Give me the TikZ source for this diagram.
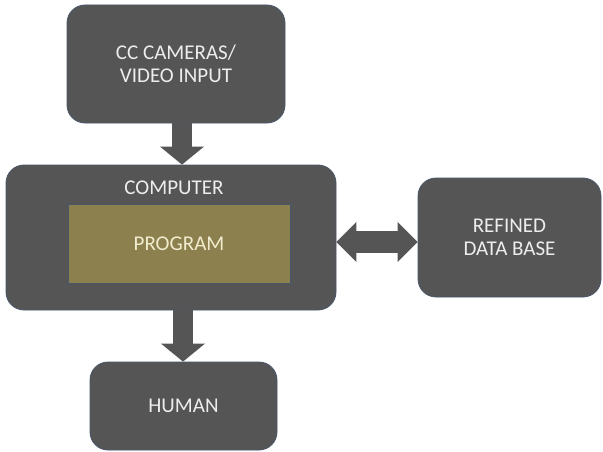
\documentclass[tikz,border=0pt]{standalone}
\usepackage{fontspec}
\setmainfont{Carlito}
\usetikzlibrary{arrows.meta}

\definecolor{boxgray}{RGB}{85,85,85}
\definecolor{boxedge}{RGB}{72,86,106}
\definecolor{progolive}{RGB}{140,128,78}
\definecolor{progtext}{RGB}{240,236,205}

\tikzset{
  box/.style={rectangle, rounded corners=18pt, fill=boxgray, draw=boxedge,
    line width=0.8pt, text=white!93!black, align=center, inner sep=0pt,
    font=\fontsize{21}{23}\selectfont},
  fat/.style={draw=boxgray, line width=20pt,
    -{Triangle[width=44pt,length=18pt,line width=0pt]}},
}

\begin{document}
\begin{tikzpicture}[x=1pt,y=-1pt]
    \useasboundingbox (0,0) rectangle (603,452);
    % blocks
    \node[box, minimum width=218pt, minimum height=118pt] (cams) at (176,64) {CC CAMERAS/\\VIDEO INPUT};
    \node[box, minimum width=330pt, minimum height=145pt] (computer) at (171,237.5) {};
    \node[text=white!93!black, font=\fontsize{21}{23}\selectfont] (complabel) at (174,188) {COMPUTER};
    \node[rectangle, fill=progolive, draw=boxedge, line width=0.8pt, minimum width=222pt, minimum height=79pt,
          text=progtext, font=\fontsize{21}{23}\selectfont] (program) at (179,243.5) {PROGRAM};
    \node[box, minimum width=183pt, minimum height=119pt] (refined) at (509.5,237.5) {REFINED\\DATA BASE};
    \node[box, minimum width=187pt, minimum height=88pt] (human) at (183.5,406) {HUMAN};
    % arrows
    \draw[fat] ([xshift=6pt]cams.south) -- ([xshift=6pt]cams.south |- computer.north);
    \draw[fat] ([xshift=12pt]computer.south) -- ([xshift=12pt]computer.south |- human.north);
    \draw[fat, line width=22pt, {Triangle[width=40pt,length=20pt,line width=0pt]}-{Triangle[width=40pt,length=20pt,line width=0pt]}]
        ([yshift=-4.5pt]computer.east) -- ([yshift=-4.5pt]computer.east -| refined.west);
\end{tikzpicture}
\end{document}
